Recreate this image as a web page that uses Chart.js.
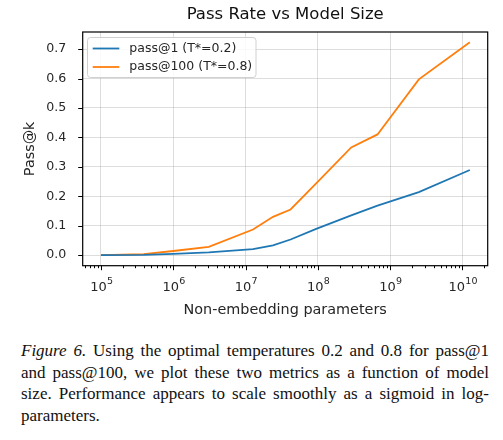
<!DOCTYPE html>
<html>
<head>
  <title>Pass Rate vs Model Size</title>
  <script src="https://cdn.jsdelivr.net/npm/chart.js"></script>
  <style>
    body { margin: 0; background: #ffffff; width: 503px; height: 440px; overflow: hidden; }
    .chart-box { position: absolute; left: 0; top: 0; width: 503px; height: 330px; }
    .caption {
        position: absolute; left: 21px; top: 340px; width: 468px;
        font-family: 'Liberation Serif', serif; font-size: 17px; line-height: 21.7px; color: #111;
    }
    .caption div { text-align: justify; text-align-last: justify; white-space: nowrap; }
    .caption div.last { text-align-last: left; }
  </style>
</head>
<body>
<div class="chart-box"><canvas id="passChart" width="503" height="330"></canvas></div>
<div class="caption">
  <div><i>Figure 6.</i> Using the optimal temperatures 0.2 and 0.8 for pass@1</div>
  <div>and pass@100, we plot these two metrics as a function of model</div>
  <div>size. Performance appears to scale smoothly as a sigmoid in log-</div>
  <div class="last">parameters.</div>
</div>

<script>
  // model sizes (non-embedding parameters)
  const params = [1e5, 3.9e5, 1e6, 3.1e6, 1.27e7, 2.4e7, 4.2e7, 9.5e7, 2.9e8, 6.7e8, 2.5e9, 1.27e10];
  const pass1 = [0.0, 0.001, 0.004, 0.009, 0.020, 0.033, 0.053, 0.089, 0.135, 0.168, 0.214, 0.289];
  const pass100 = [0.0, 0.003, 0.014, 0.028, 0.087, 0.130, 0.155, 0.244, 0.366, 0.410, 0.597, 0.723];
  const seriesLabels = ['pass@1 (T*=0.2)', 'pass@100 (T*=0.8)'];
  const xTicks = [1e5, 1e6, 1e7, 1e8, 1e9, 1e10];
  const yTicks = [0.0, 0.1, 0.2, 0.3, 0.4, 0.5, 0.6, 0.7];

  const FONT = "'DejaVu Sans', sans-serif";

  // frame, tick marks, tick labels with exponents, legend and titles
  const decor = {
      id: 'decor',
      afterDraw(chart) {
          const ctx = chart.ctx, a = chart.chartArea;
          const xs = chart.scales.x, ys = chart.scales.y;
          ctx.save();
          ctx.strokeStyle = '#000';
          ctx.lineWidth = 1;
          // x ticks, major and minor
          for (let d = 4; d <= 10; d++) {
              for (let k = 1; k <= 9; k++) {
                  const v = k * Math.pow(10, d);
                  if (v < xs.min || v > xs.max) continue;
                  const px = Math.round(xs.getPixelForValue(v)) + 0.5;
                  const len = k === 1 ? 4.5 : 2.5;
                  ctx.beginPath(); ctx.moveTo(px, a.bottom); ctx.lineTo(px, a.bottom + len); ctx.stroke();
              }
          }
          // x tick labels: 10 with raised exponent
          ctx.fillStyle = '#262626';
          ctx.textBaseline = 'middle';
          ctx.textAlign = 'left';
          xTicks.forEach(v => {
              const e = String(Math.round(Math.log10(v)));
              ctx.font = '13px ' + FONT;
              const wb = ctx.measureText('10').width;
              ctx.font = '9.5px ' + FONT;
              const we = ctx.measureText(e).width;
              const x0 = xs.getPixelForValue(v) - (wb + we) / 2 + 0.5;
              ctx.font = '13px ' + FONT;
              ctx.fillText('10', x0, 287.5);
              ctx.font = '9.5px ' + FONT;
              ctx.fillText(e, x0 + wb + 0.3, 281.8);
          });
          // y ticks
          ctx.lineWidth = 1;
          yTicks.forEach(v => {
              const py = Math.round(ys.getPixelForValue(v)) + 0.5;
              ctx.beginPath(); ctx.moveTo(a.left - 4.5, py); ctx.lineTo(a.left, py); ctx.stroke();
          });
          // frame
          ctx.lineWidth = 1.2;
          ctx.strokeRect(a.left, a.top, a.right - a.left, a.bottom - a.top);

          // legend
          const lx = 87.5, ly = 37.5, lw = 168.5, lh = 40;
          ctx.fillStyle = 'rgba(255,255,255,0.85)';
          ctx.strokeStyle = '#d0d0d0';
          ctx.lineWidth = 1;
          ctx.beginPath(); ctx.roundRect(lx, ly, lw, lh, 3); ctx.fill(); ctx.stroke();
          ctx.font = '12.5px ' + FONT;
          ctx.textBaseline = 'middle';
          ctx.textAlign = 'left';
          chart.data.datasets.forEach((ds, i) => {
              const ry = 48.5 + i * 18.5;
              ctx.strokeStyle = ds.borderColor;
              ctx.lineWidth = 1.8;
              ctx.beginPath(); ctx.moveTo(92.7, ry); ctx.lineTo(119.3, ry); ctx.stroke();
              ctx.fillStyle = '#262626';
              ctx.fillText(ds.label, 129.3, ry);
          });

          // titles
          const cx = (a.left + a.right) / 2;
          ctx.fillStyle = '#111';
          ctx.textAlign = 'center';
          ctx.font = '16.5px ' + FONT;
          ctx.fillText('Pass Rate vs Model Size', cx, 14.5);
          ctx.font = '14.4px ' + FONT;
          ctx.fillStyle = '#262626';
          ctx.fillText('Non-embedding parameters', cx, 310.5);
          ctx.translate(30, (a.top + a.bottom) / 2);
          ctx.rotate(-Math.PI / 2);
          ctx.fillText('Pass@k', 0, 0);
          ctx.restore();
      }
  };

  new Chart(document.getElementById('passChart'), {
      type: 'line',
      data: {
          datasets: [
              {
                  label: seriesLabels[0],
                  data: params.map((p, i) => ({x: p, y: pass1[i]})),
                  borderColor: '#1f77b4',
                  borderWidth: 1.8,
                  pointRadius: 0,
                  tension: 0
              },
              {
                  label: seriesLabels[1],
                  data: params.map((p, i) => ({x: p, y: pass100[i]})),
                  borderColor: '#ff7f0e',
                  borderWidth: 1.8,
                  pointRadius: 0,
                  tension: 0
              }
          ]
      },
      options: {
          responsive: false,
          animation: false,
          layout: { padding: { top: 32, right: 15.3, left: 0, bottom: 0 } },
          plugins: { legend: { display: false }, title: { display: false }, tooltip: { enabled: false } },
          scales: {
              x: {
                  type: 'logarithmic',
                  min: Math.pow(10, 4.747),
                  max: Math.pow(10, 10.351),
                  afterBuildTicks: s => { s.ticks = xTicks.map(v => ({value: v})); },
                  afterFit: s => { s.height = 64.3; },
                  ticks: { display: false },
                  grid: { color: 'rgba(170,170,170,0.4)', drawTicks: false },
                  border: { display: false }
              },
              y: {
                  min: -0.036,
                  max: 0.758,
                  afterBuildTicks: s => { s.ticks = yTicks.map(v => ({value: v})); },
                  afterFit: s => { s.width = 82.7; },
                  ticks: {
                      callback: v => v.toFixed(1),
                      padding: 16.5,
                      color: '#262626',
                      font: { family: FONT, size: 12.6 }
                  },
                  grid: { color: 'rgba(170,170,170,0.4)', drawTicks: false },
                  border: { display: false }
              }
          }
      },
      plugins: [decor]
  });
</script>
</body>
</html>
